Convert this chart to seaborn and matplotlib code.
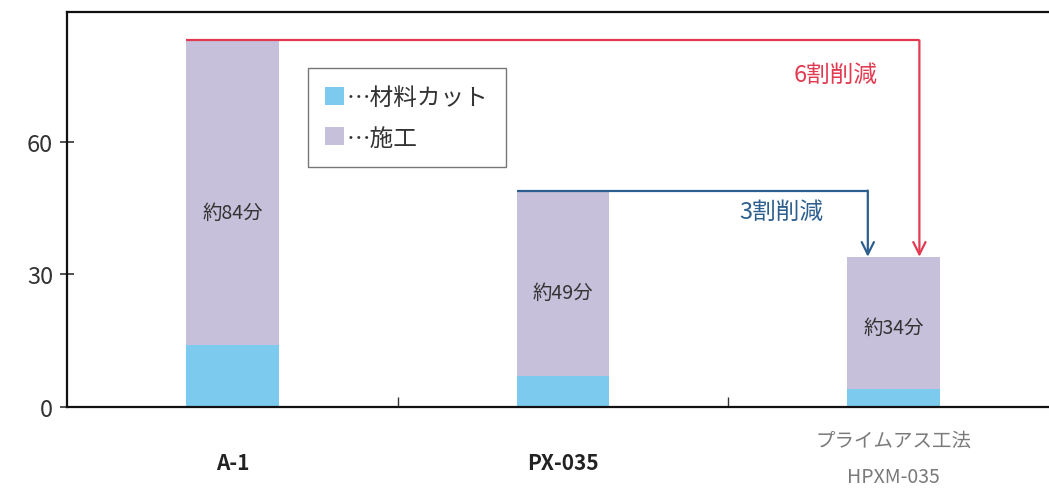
import numpy as np
import pandas as pd
import seaborn as sns
import matplotlib.pyplot as plt
from matplotlib.patches import Patch

# values (minutes)
methods = ["A-1", "PX-035", "プライムアス工法\nHPXM-035"]
cut_time = [14, 7, 4]            # 材料カット
work_time = [69, 42, 30]         # 施工
total_labels = ["約84分", "約49分", "約34分"]
reduction_labels = ["6割削減", "3割削減"]

blue = "#7CCBEF"
purple = "#C6C0DA"
red = "#E23A50"
navy = "#2D5F8E"


def main():
    sns.set_style("white")
    plt.rcParams["font.family"] = ["Noto Sans CJK JP", "DejaVu Sans"]

    total = np.array(cut_time) + np.array(work_time)
    df = pd.DataFrame({"method": methods, "cut": cut_time, "total": total})

    fig = plt.figure(figsize=(10.49, 4.89), dpi=100)
    ax = fig.add_axes([0.0639, 0.1656, 0.9361, 0.8078])

    # stacked bars: total (施工 on top) then material cut on the bottom
    sns.barplot(data=df, x="method", y="total", color=purple, width=0.28,
                saturation=1, ax=ax)
    sns.barplot(data=df, x="method", y="cut", color=blue, width=0.28,
                saturation=1, ax=ax)
    for p in ax.patches:
        p.set_edgecolor("none")

    ax.set_xlim(-0.5, 2.47)
    ax.set_ylim(0, 89.4)
    ax.set_xlabel("")
    ax.set_ylabel("")

    ax.set_yticks([0, 30, 60])
    ax.tick_params(axis="y", left=True, direction="inout", length=10,
                   width=1.2, color="#333333", labelsize=17,
                   labelcolor="#333333", pad=5)
    ax.set_xticks([0, 1, 2])
    ax.set_xticklabels(["", "", ""])
    ax.tick_params(axis="x", length=0)
    ax.set_xticks([0.5, 1.5], minor=True)
    ax.tick_params(axis="x", which="minor", bottom=True, direction="in",
                   length=7, width=1.0, color="#333333")

    # category labels under the axis
    ax.text(0, -12.5, methods[0], ha="center", va="center", fontsize=15,
            fontweight="bold", color="#222222")
    ax.text(1, -12.5, methods[1], ha="center", va="center", fontsize=15,
            fontweight="bold", color="#222222")
    name2, code2 = methods[2].split("\n")
    ax.text(2, -7.5, name2, ha="center", va="center", fontsize=14,
            color="#7a7a7a")
    ax.text(2, -15.8, code2, ha="center", va="center", fontsize=14,
            color="#7a7a7a")

    for spine in ["left", "bottom", "top"]:
        ax.spines[spine].set_color("#111111")
        ax.spines[spine].set_linewidth(1.6)
    ax.spines["right"].set_visible(False)

    # labels inside the bars
    for i, lab in enumerate(total_labels):
        ax.text(i, total[i] * 0.53, lab, ha="center", va="center",
                fontsize=14, color="#333333")

    # reduction brackets
    hw = 0.14
    for start, color, xoff, lab, lx, ly in [
        (0, red, 0.078, reduction_labels[0], 1.825, 75.3),
        (1, navy, -0.078, reduction_labels[1], 1.66, 44.3),
    ]:
        xe = 2 + xoff
        ax.plot([start - hw, xe], [total[start], total[start]], color=color,
                lw=1.6, solid_capstyle="butt")
        ax.annotate("", xy=(xe, total[2]), xytext=(xe, total[start]),
                    arrowprops=dict(arrowstyle="->", color=color, lw=1.6,
                                    mutation_scale=22, shrinkA=0, shrinkB=0))
        ax.text(lx, ly, lab, ha="center", va="center", fontsize=17,
                color=color)

    handles = [Patch(facecolor=blue, edgecolor="none"),
               Patch(facecolor=purple, edgecolor="none")]
    leg = ax.legend(handles, ["…材料カット", "…施工"], loc="upper left",
                    bbox_to_anchor=(0.245, 0.858), fontsize=17,
                    frameon=True, fancybox=False, handlelength=0.8,
                    handleheight=0.8, handletextpad=0.1, borderpad=0.75,
                    labelspacing=0.75, borderaxespad=0)
    leg.get_frame().set_edgecolor("#555555")
    leg.get_frame().set_linewidth(1.0)
    for t in leg.get_texts():
        t.set_color("#333333")

    fig.savefig("out.png", dpi=100)


if __name__ == "__main__":
    main()
